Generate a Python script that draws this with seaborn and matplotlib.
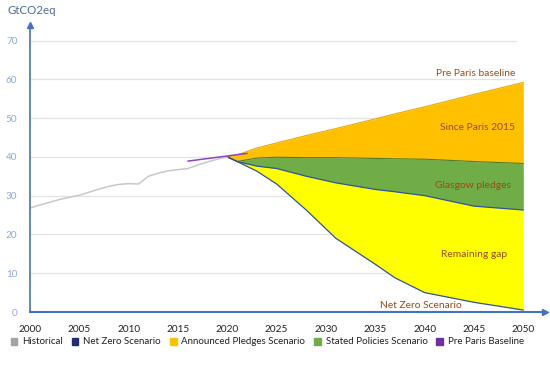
import matplotlib
matplotlib.use("Agg")
import matplotlib.pyplot as plt
import matplotlib.patches as mpatches
import seaborn as sns
import pandas as pd

sns.set_theme(style="white")
plt.rcParams['font.family'] = ['Lato', 'DejaVu Sans']

# --- data ---
hist_years = list(range(2000, 2021))
hist_vals = [26.8, 27.6, 28.3, 29.0, 29.6, 30.1, 30.9, 31.7, 32.4, 32.9, 33.1,
             33.0, 35.0, 35.8, 36.4, 36.7, 37.0, 37.9, 38.7, 39.4, 40.0]

pp_years = [2016, 2022]
pp_vals = [38.9, 40.9]

proj_years = [2020, 2021, 2023, 2025, 2028, 2031, 2035, 2037, 2040, 2045, 2050]
pre_paris = [40.0, 40.5, 42.3, 43.6, 45.5, 47.3, 49.8, 51.1, 52.9, 56.1, 59.2]
stated = [40.0, 38.8, 39.7, 39.9, 39.8, 39.8, 39.6, 39.5, 39.4, 38.8, 38.3]
announced = [40.0, 38.8, 37.6, 37.0, 35.0, 33.3, 31.6, 31.0, 30.0, 27.3, 26.3]
net_zero = [40.0, 38.8, 36.3, 33.0, 26.3, 19.0, 12.3, 8.8, 5.0, 2.5, 0.5]

y_ticks = [0, 10, 20, 30, 40, 50, 60, 70]
x_ticks = [2000, 2005, 2010, 2015, 2020, 2025, 2030, 2035, 2040, 2045, 2050]

# colours
c_axis = '#4472c4'
c_hist = '#c9c9c9'
c_nz = '#1f2f6e'
c_orange = '#ffc000'
c_green = '#70ad47'
c_yellow = '#ffff00'
c_purple = '#7030a0'
c_note = '#9c4a14'

hist = pd.DataFrame({'year': hist_years, 'value': hist_vals})
pp = pd.DataFrame({'year': pp_years, 'value': pp_vals})
proj = pd.DataFrame({'year': proj_years, 'pre_paris': pre_paris, 'stated': stated,
                     'announced': announced, 'net_zero': net_zero})

fig = plt.figure(figsize=(5.5, 3.81), dpi=100)
ax = fig.add_axes([30 / 550, 69 / 381, 515 / 550, 287 / 381])

# horizontal gridlines (stop just short of 2050)
ax.hlines(y_ticks[1:], 2000, 2049.3, color='#e3e3e3', lw=0.9, zorder=0)

# stacked wedges
ax.fill_between(proj['year'], proj['stated'], proj['pre_paris'], color=c_orange, lw=0, zorder=1)
ax.fill_between(proj['year'], proj['announced'], proj['stated'], color=c_green, lw=0, zorder=1)
ax.fill_between(proj['year'], proj['net_zero'], proj['announced'], color=c_yellow, lw=0, zorder=1)

sns.lineplot(data=proj, x='year', y='pre_paris', color='#e8a800', lw=0.8, ax=ax, zorder=2)
sns.lineplot(data=proj, x='year', y='stated', color='#4e7a32', lw=0.8, ax=ax, zorder=2)
sns.lineplot(data=proj, x='year', y='announced', color='#2f5597', lw=0.9, ax=ax, zorder=2)
sns.lineplot(data=proj, x='year', y='net_zero', color='#2f5597', lw=0.9, ax=ax, zorder=2)

sns.lineplot(data=hist, x='year', y='value', color=c_hist, lw=1.1, ax=ax, zorder=2)
sns.lineplot(data=pp, x='year', y='value', color='#8e44c0', lw=1.1, ax=ax, zorder=3)

# annotations
txt = dict(color=c_note, fontsize=7.4, ha='center', va='center', zorder=4)
ax.text(2045.2, 61.6, 'Pre Paris baseline', **txt)
ax.text(2045.4, 47.5, 'Since Paris 2015', **txt)
ax.text(2044.9, 32.7, 'Glasgow pledges', **txt)
ax.text(2045.0, 14.9, 'Remaining gap', **txt)
ax.text(2039.6, 1.6, 'Net Zero Scenario', **txt)

# axes styling
ax.set_xlim(2000, 2052.2)
ax.set_ylim(0, 74)
ax.set_xticks(x_ticks)
ax.set_yticks(y_ticks)
ax.set_xlabel('')
ax.set_ylabel('')
for s in ['top', 'right']:
    ax.spines[s].set_visible(False)
ax.spines['bottom'].set_color(c_axis)
ax.spines['bottom'].set_linewidth(1.5)
ax.spines['left'].set_color(c_axis)
ax.spines['left'].set_linewidth(1.2)
ax.tick_params(axis='x', direction='in', length=6, width=1, color=c_axis,
               pad=9, labelsize=7.2, labelcolor='#222222')
ax.tick_params(axis='y', length=0, pad=9, labelsize=7.2, labelcolor='#8faadc')
ax.plot(1, 0, '>', color=c_axis, ms=5, transform=ax.transAxes, clip_on=False)
ax.plot(0, 1, '^', color=c_axis, ms=5, transform=ax.transAxes, clip_on=False)

fig.text(7 / 550, 1 - 10 / 381, 'GtCO2eq', color='#4a6a9c', fontsize=8.3,
         ha='left', va='center')

handles = [
    mpatches.Patch(color='#a5a5a5', label='Historical'),
    mpatches.Patch(color=c_nz, label='Net Zero Scenario'),
    mpatches.Patch(color=c_orange, label='Announced Pledges Scenario'),
    mpatches.Patch(color=c_green, label='Stated Policies Scenario'),
    mpatches.Patch(color=c_purple, label='Pre Paris Baseline'),
]
fig.legend(handles=handles, loc='center', bbox_to_anchor=(0.486, 1 - 342 / 381),
           ncol=5, frameon=False, fontsize=7, handlelength=0.7, handleheight=0.7,
           handletextpad=0.5, columnspacing=0.9, labelcolor='#222222')

fig.savefig('out.png', dpi=100)
